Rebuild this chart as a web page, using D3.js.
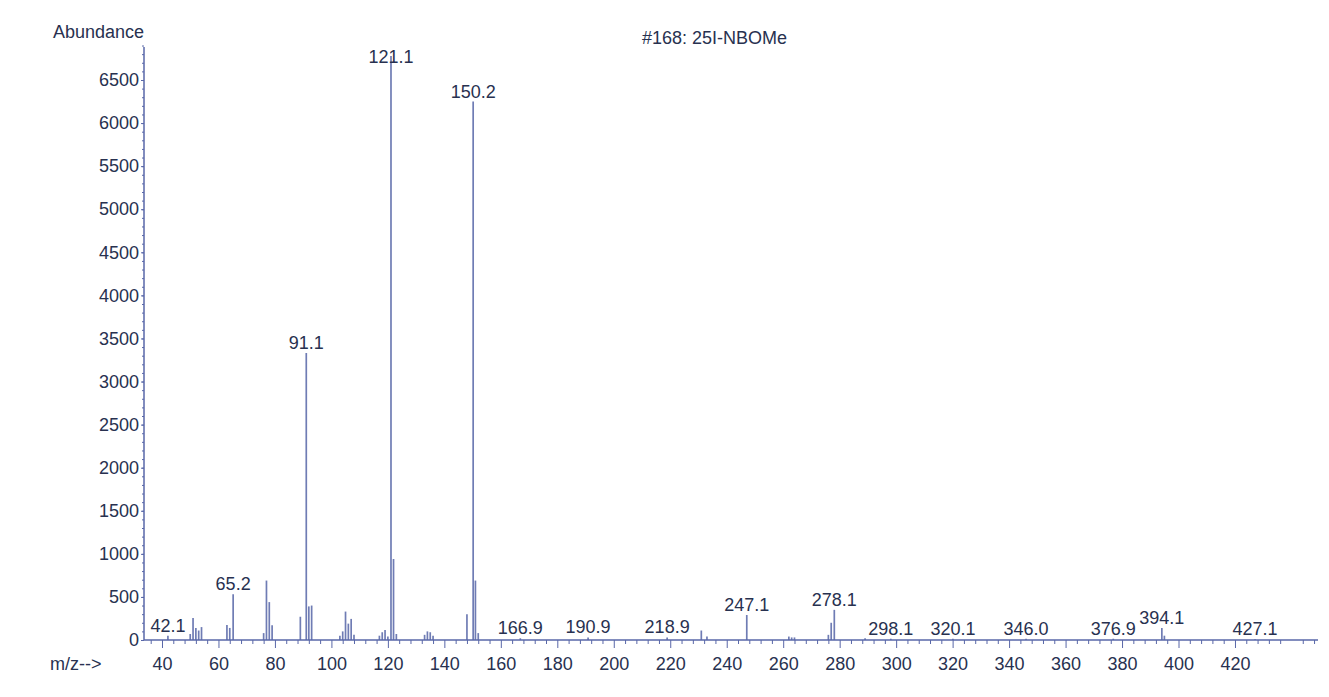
<!DOCTYPE html>
<html>
<head>
<meta charset="utf-8">
<script src="https://cdn.jsdelivr.net/npm/d3@7"></script>
<style>
  body { margin: 0; background: #fff; }
  svg text { font-family: "Liberation Sans", Arial, sans-serif; fill: #283150; }
</style>
</head>
<body>
<svg id="chart" width="1329" height="697"></svg>
<script>
// spectrum #168: 25I-NBOMe
const title = "#168: 25I-NBOMe";
const mz = [42.1, 50, 51, 52, 53, 54, 63, 64, 65.2, 76, 77, 78, 79,
  89, 91.1, 92, 93, 103, 104, 105, 106, 107, 108, 117, 118, 119, 120,
  121.1, 122, 123, 133, 134, 135, 136, 148, 150.2, 151, 152, 166.9, 190.9,
  218.9, 231, 233, 247.1, 262, 263, 264, 276, 277, 278.1, 289, 298.1,
  320.1, 346.0, 376.9, 394.1, 395, 427.1];
const abundance = [50, 70, 255, 140, 110, 150, 175, 140, 530, 80, 690, 440, 170,
  270, 3330, 390, 400, 50, 100, 330, 190, 245, 60, 50, 90, 115, 40,
  6780, 940, 70, 60, 100, 90, 50, 300, 6250, 690, 80, 20, 30,
  30, 110, 40, 290, 40, 30, 30, 60, 200, 350, 20, 15,
  15, 15, 15, 140, 50, 10];
const peakLabels = ["42.1", "65.2", "91.1", "121.1", "150.2", "166.9", "190.9",
  "218.9", "247.1", "278.1", "298.1", "320.1", "346.0", "376.9", "394.1", "427.1"];
const xMajor = d3.range(40, 421, 20);
const yTicks = d3.range(0, 6501, 500);

const svg = d3.select("#chart");
const x = d3.scaleLinear().domain([33.63, 449.4]).range([144, 1318]);
const y = d3.scaleLinear().domain([0, 6500]).range([640, 80]);
const axisColor = "#5967a8";

// peaks
svg.append("g").selectAll("line")
  .data(mz)
  .join("line")
  .attr("x1", d => x(d)).attr("x2", d => x(d))
  .attr("y1", y(0))
  .attr("y2", (d, i) => y(abundance[i]))
  .attr("stroke", "#6f7cb4")
  .attr("stroke-width", 1.7);

// y axis
const yAxis = svg.append("g").attr("transform", "translate(144,0)")
  .call(d3.axisLeft(y).tickValues(yTicks).tickSize(3).tickPadding(2).tickFormat(d3.format("d")));
yAxis.select(".domain").remove();
svg.append("g").attr("transform", "translate(144,0)")
  .call(d3.axisLeft(y).tickValues(d3.range(0, 6901, 100)).tickSize(2).tickFormat(""))
  .call(g => g.select(".domain").remove());
svg.append("line")
  .attr("x1", 144).attr("x2", 144).attr("y1", 47).attr("y2", y(0))
  .attr("stroke", axisColor).attr("stroke-width", 1.5);

// x axis
const minor = d3.range(36, 449, 4).filter(v => v % 20 !== 0);
svg.append("g").attr("transform", `translate(0,${y(0)})`)
  .call(d3.axisBottom(x).tickValues(minor).tickSize(4).tickFormat(""))
  .call(g => g.select(".domain").remove());
const xAxis = svg.append("g").attr("transform", `translate(0,${y(0)})`)
  .call(d3.axisBottom(x).tickValues(xMajor).tickSize(8).tickPadding(9));
xAxis.select(".domain").remove();
svg.append("line")
  .attr("x1", 144).attr("x2", 1318).attr("y1", y(0)).attr("y2", y(0))
  .attr("stroke", axisColor).attr("stroke-width", 1.5);

svg.selectAll(".tick line").attr("stroke", axisColor);
svg.selectAll(".tick text").attr("font-size", 18).attr("fill", "#283150");

// peak labels
svg.append("g").selectAll("text")
  .data(peakLabels)
  .join("text")
  .attr("x", d => x(+d))
  .attr("y", d => {
    const v = abundance[mz.indexOf(+d)];
    return Math.max(y(v) - 4, 63);
  })
  .attr("text-anchor", "middle")
  .attr("font-size", 18)
  .text(d => d);

svg.append("text").attr("x", 53).attr("y", 38).attr("font-size", 18).text("Abundance");
svg.append("text").attr("x", 50).attr("y", 670).attr("font-size", 18).text("m/z-->");
svg.append("text").attr("x", 642).attr("y", 44).attr("font-size", 18).text(title);
</script>
</body>
</html>
